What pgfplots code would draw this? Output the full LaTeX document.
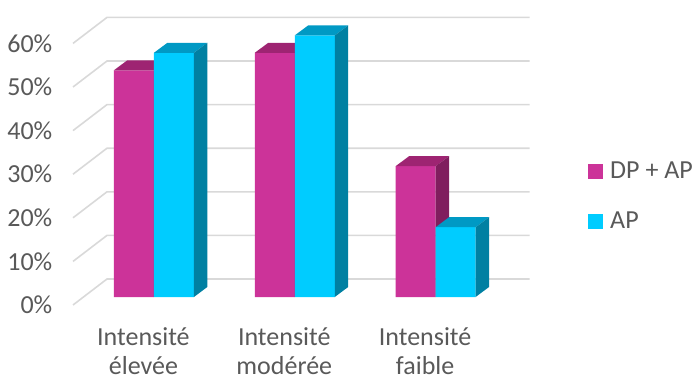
\documentclass[border=0pt]{standalone}
\usepackage{pgfplots}
\pgfplotsset{compat=1.18}
\usepackage{pgfplotstable}
\usepackage{fontspec}
\setmainfont{Carlito}
\definecolor{dpfront}{RGB}{204,51,153}
\definecolor{dptop}{RGB}{158,36,114}
\definecolor{dpside}{RGB}{128,30,94}
\definecolor{apfront}{RGB}{0,204,255}
\definecolor{aptop}{RGB}{0,153,196}
\definecolor{apside}{RGB}{0,128,162}
\definecolor{txt}{RGB}{89,89,89}
\definecolor{gridc}{RGB}{217,217,217}

\pgfplotstableread{
x dp ap
0 52 56
1 56 60
2 30 16
}\datatable

\def\bw{0.284}
\def\ddx{0.0951}\def\ddy{2.294}
\def\bdx{0.1668}\def\bdy{4.128}
\def\fdx{-0.0745}\def\fdy{-1.835}

\newcommand\facesfor[4]{% #1 column, #2 left offset, #3 top colour, #4 side colour
  \pgfplotsinvokeforeach{0,1,2}{%
    \pgfplotstablegetelem{##1}{#1}\of\datatable
    \pgfmathsetmacro\vala{\pgfplotsretval}%
    \pgfmathsetmacro\xl{##1+#2}%
    \pgfmathsetmacro\xr{##1+#2+\bw}%
    \pgfmathsetmacro\xlb{\xl+\ddx}%
    \pgfmathsetmacro\xrb{\xr+\ddx}%
    \pgfmathsetmacro\valb{\vala+\ddy}%
    \edef\tmp{\noexpand\addplot[fill=#3,draw=none,forget plot] coordinates {(\xl,\vala) (\xr,\vala) (\xrb,\valb) (\xlb,\valb)} --cycle;
      \noexpand\addplot[fill=#4,draw=none,forget plot] coordinates {(\xr,0) (\xrb,\ddy) (\xrb,\valb) (\xr,\vala)} --cycle;}%
    \tmp
  }%
}

\begin{document}
\begin{tikzpicture}
\useasboundingbox (0,0) rectangle (693pt,381pt);
\begin{axis}[
  at={(83.5pt,84pt)}, anchor=south west,
  x=140.85pt, y=4.36pt,
  xmin=-0.5, xmax=2.5, ymin=0, ymax=60,
  clip=false,
  axis line style={draw=none},
  major tick length=0pt,
  ytick={0,10,...,60},
  yticklabels={0\%,10\%,20\%,30\%,40\%,50\%,60\%},
  xtick={0,1,2},
  xticklabels={{Intensité\\élevée},{Intensité\\modérée},{Intensité\\faible}},
  ticklabel style={font=\fontsize{26}{29}\selectfont, text=txt, inner sep=0pt},
  yticklabel style={anchor=east, xshift=-31pt, yshift=-8pt},
  xticklabel style={align=center, anchor=north, xshift=-10.5pt, yshift=-30pt},
  legend style={at={(1.194,0.385)}, anchor=west, draw=none, fill=none,
    font=\fontsize{26}{30}\selectfont, text=txt, inner sep=0pt,
    nodes={inner sep=0pt}, row sep=32pt},
  legend cell align=left,
  legend image code/.code={\fill[#1] (0pt,-7.5pt) rectangle (15pt,7.5pt);},
  /tikz/every odd column/.append style={column sep=7pt},
]
% grid lines on back wall and side wall
\pgfplotsinvokeforeach{0,10,...,60}{%
  \pgfmathsetmacro\ga{#1+\fdy}%
  \pgfmathsetmacro\gb{#1+\bdy}%
  \pgfmathsetmacro\xa{-0.5+\fdx}%
  \pgfmathsetmacro\xb{-0.5+\bdx}%
  \pgfmathsetmacro\xc{2.5+\bdx}%
  \edef\tmp{\noexpand\addplot[gridc, line width=1.6pt, forget plot] coordinates {(\xa,\ga) (\xb,\gb) (\xc,\gb)};}%
  \tmp
}
\addplot[ybar, bar width=40pt, bar shift=-20pt, fill=dpfront, draw=none] table[x=x,y=dp]{\datatable};
\addlegendentry{DP + AP}
\facesfor{dp}{-\bw}{dptop}{dpside}
\addplot[ybar, bar width=40pt, bar shift=20pt, fill=apfront, draw=none] table[x=x,y=ap]{\datatable};
\addlegendentry{AP}
\facesfor{ap}{0}{aptop}{apside}
\end{axis}
\end{tikzpicture}
\end{document}
